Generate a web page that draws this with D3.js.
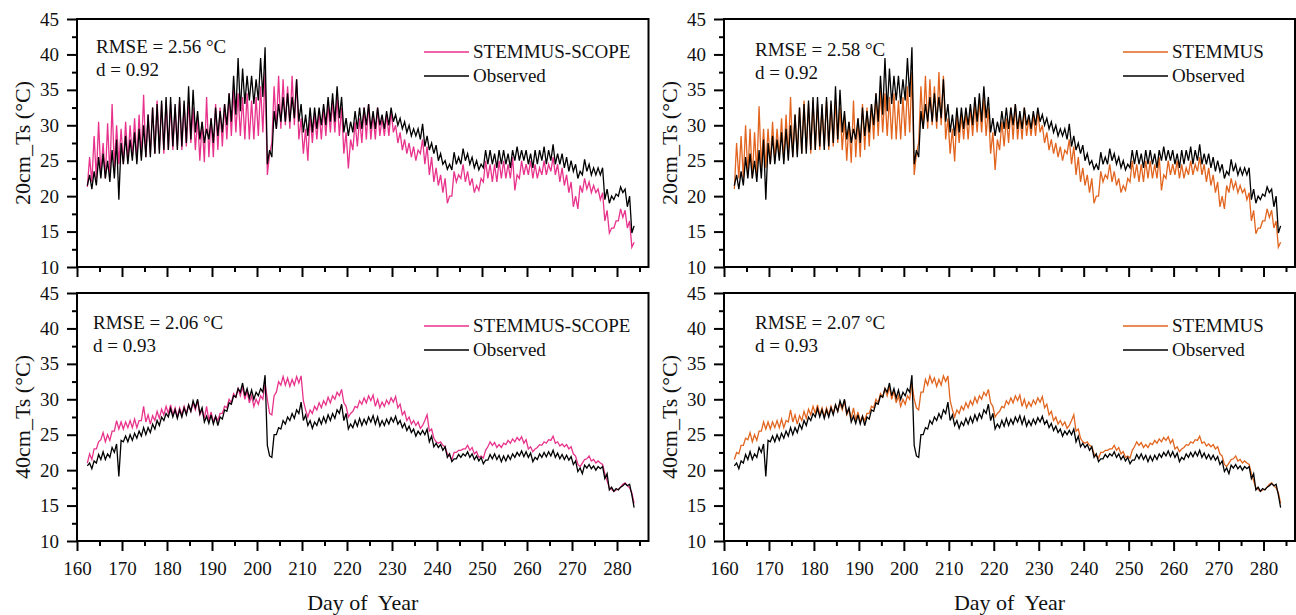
<!DOCTYPE html>
<html>
<head>
<meta charset="utf-8">
<script src="https://cdn.jsdelivr.net/npm/d3@7"></script>
<style>
  body { margin: 0; background: #fff; }
  svg { display: block; }
  svg text { font-family: "Liberation Serif", "Times New Roman", serif; fill: #111; }
</style>
</head>
<body>
<div id="chart"></div>
<script>
// one trough (lo) and one peak (hi) per day, days 162..283
const days = d3.range(162, 284);

const obsLo20 = [21.5,21.0,21.5,22.5,22.5,22.0,22.5,19.5,24.5,24.5,
  25.0,24.5,25.0,25.5,25.5,26.0,26.0,26.5,26.5,27.0,
  26.5,27.0,27.5,28.0,29.0,28.0,27.5,28.0,27.5,28.5,
  29.0,30.0,30.5,31.5,32.0,33.0,33.5,33.0,33.5,34.0,
  24.5,25.5,29.5,30.5,30.5,30.5,31.0,30.5,29.0,28.5,
  29.0,29.5,30.0,30.0,30.5,30.5,31.0,29.0,28.5,29.0,
  29.5,29.5,30.0,29.5,29.5,30.0,29.5,30.0,30.5,30.0,
  29.5,29.0,28.5,28.5,28.0,27.0,26.5,26.0,25.0,24.5,
  23.8,23.7,24.5,24.5,25.0,24.5,24.0,23.7,24.0,24.5,
  24.5,24.0,24.5,24.5,24.0,25.0,25.0,25.0,24.5,24.0,
  24.5,25.0,24.5,25.0,24.5,24.5,24.0,23.5,23.5,22.5,
  23.0,23.5,23.0,23.0,23.0,19.5,19.0,19.5,20.0,20.5,
  18.5,14.8];
const obsHi20 = [23.0,23.5,25.5,26.0,25.0,26.5,28.0,27.5,28.5,28.0,
  29.0,29.5,30.0,31.5,32.5,33.0,33.5,34.0,34.0,33.0,
  34.0,33.5,35.5,35.0,32.0,30.5,29.5,31.0,32.5,32.0,
  33.0,34.5,37.0,39.5,38.0,37.0,37.0,36.5,39.5,41.0,
  26.5,32.0,33.0,34.0,34.5,34.0,36.5,33.0,31.5,32.5,
  32.5,32.5,33.0,34.0,34.5,35.5,34.0,31.0,30.5,32.0,
  32.5,32.5,33.0,32.0,32.5,31.5,32.0,32.5,31.5,31.0,
  30.5,30.0,29.5,29.5,30.2,28.5,27.5,27.2,26.0,25.0,
  24.5,26.2,25.5,26.7,26.0,25.5,25.0,24.5,26.5,26.5,
  26.0,26.5,26.5,26.0,26.5,27.0,26.5,26.5,26.0,26.5,
  26.5,27.0,26.5,27.3,26.0,26.0,25.5,25.0,24.5,23.5,
  25.2,24.5,24.0,24.0,24.0,21.0,20.0,20.3,21.3,21.0,
  20.0,15.8];

const ssLo20 = [21.3,22.0,22.5,23.0,22.5,23.0,24.0,24.5,24.5,25.0,
  25.5,25.0,25.5,25.5,26.0,26.0,26.5,26.0,26.5,26.5,
  27.0,26.5,27.0,27.5,26.5,25.0,24.8,25.5,25.5,26.5,
  27.0,28.0,28.5,29.0,28.5,28.0,28.0,28.0,28.5,29.0,
  23.0,27.5,29.5,29.5,30.0,29.5,30.0,28.0,26.0,25.0,
  27.5,28.0,28.0,28.5,29.0,29.0,28.5,26.0,23.9,26.5,
  27.0,27.5,28.0,28.0,28.0,28.5,28.5,28.5,29.0,27.5,
  26.5,26.0,25.5,25.0,26.0,24.5,23.0,22.0,21.5,20.5,
  19.0,20.0,22.0,22.5,22.0,21.5,20.5,20.8,22.0,22.5,
  22.0,22.0,22.5,22.5,22.5,20.8,22.5,23.0,23.0,22.5,
  22.5,23.0,23.0,23.5,23.0,22.0,21.5,20.5,18.5,18.2,
  20.5,21.0,20.5,20.5,19.5,16.5,14.8,15.5,16.5,17.0,
  15.5,12.8];
const ssHi20 = [25.5,28.5,30.5,27.5,30.3,33.0,30.0,29.5,30.5,30.0,
  31.0,31.5,34.3,31.5,32.5,33.5,33.0,33.5,33.0,32.5,
  33.5,33.0,33.5,32.5,31.0,30.5,34.0,31.0,33.0,32.5,
  33.0,34.5,35.0,34.5,34.0,34.5,33.5,34.0,35.5,37.5,
  26.0,35.5,37.0,36.5,35.5,37.0,36.5,31.0,29.5,31.5,
  31.5,32.0,32.5,33.0,33.5,34.0,32.5,29.0,28.0,30.5,
  31.0,32.5,33.0,31.5,32.5,31.0,31.5,32.0,30.0,29.0,
  28.0,27.5,27.0,26.5,28.0,27.0,25.5,24.0,23.0,22.5,
  20.0,23.5,23.0,24.5,23.5,22.5,21.5,22.5,25.0,24.5,
  24.5,25.0,25.0,24.5,25.5,23.0,25.0,24.5,25.0,24.5,
  24.0,25.0,24.5,25.5,24.5,24.0,23.0,22.0,20.0,21.5,
  22.5,22.0,21.5,21.0,20.5,18.0,15.5,16.5,18.2,18.0,
  16.5,13.5];

const stLo20 = [21.0,22.5,22.5,23.0,22.5,23.0,24.0,24.0,24.5,25.0,
  25.5,25.0,25.5,25.5,26.0,26.0,26.5,26.0,26.5,26.5,
  27.0,26.5,27.0,27.5,26.5,25.0,24.7,25.5,25.5,26.5,
  27.0,28.0,28.5,29.0,28.5,28.0,28.0,28.0,28.5,29.0,
  23.0,27.5,29.5,29.5,30.0,29.5,30.0,28.0,26.0,24.9,
  27.5,28.0,28.0,28.5,29.0,29.0,28.5,26.0,23.7,26.5,
  27.0,27.5,28.0,28.0,28.0,28.5,28.5,28.5,29.0,27.5,
  26.5,26.0,25.5,25.0,26.0,24.5,23.0,22.0,21.5,20.5,
  19.0,20.0,22.0,22.5,22.0,21.5,20.5,20.8,22.0,22.5,
  22.0,22.0,22.5,22.5,22.5,20.8,22.5,23.0,23.0,22.5,
  22.5,23.0,23.0,23.5,23.0,22.0,21.5,20.5,18.5,18.2,
  20.5,21.0,20.5,20.5,19.5,16.5,14.7,15.5,16.5,17.0,
  15.5,12.8];
const stHi20 = [27.5,28.5,30.0,29.5,29.0,32.7,29.5,29.5,30.5,29.5,
  31.0,31.5,34.0,31.5,32.5,33.5,33.0,33.5,33.0,32.5,
  33.5,33.0,33.5,32.5,31.0,30.5,33.5,31.0,33.0,32.5,
  33.0,34.5,35.0,34.5,34.0,34.5,33.5,34.0,35.5,37.5,
  26.0,35.5,37.0,36.5,35.5,37.5,37.0,31.0,29.5,31.5,
  31.5,32.0,32.5,33.0,33.5,34.0,32.5,29.0,28.0,30.5,
  31.0,32.5,33.0,31.5,32.5,31.0,31.5,32.0,30.0,29.0,
  28.0,27.5,27.0,26.5,28.0,27.0,25.5,24.0,23.0,22.5,
  20.0,23.5,23.0,24.5,23.5,22.5,21.5,22.5,25.0,24.5,
  24.5,25.0,25.0,24.5,25.5,23.0,25.0,24.5,25.0,24.5,
  24.0,25.0,24.5,25.5,24.5,24.0,23.0,22.0,20.0,21.5,
  22.5,22.0,21.5,21.0,20.5,18.0,15.5,16.5,18.2,18.0,
  16.5,13.5];

const obsLo40 = [20.6,20.2,21.0,21.5,21.5,21.8,22.5,19.1,24.0,24.0,
  24.2,24.5,24.8,25.0,25.3,25.8,26.3,27.0,27.5,27.5,
  27.3,27.5,27.8,28.3,28.8,28.0,26.8,26.6,26.5,26.3,
  27.2,28.3,29.3,30.3,31.0,30.5,30.2,30.0,30.5,31.0,
  23.5,21.8,25.0,25.8,26.5,27.0,27.3,28.0,27.0,26.3,
  25.9,26.3,26.5,26.7,27.0,27.3,28.0,27.0,25.8,26.0,
  26.2,26.3,26.5,26.8,26.5,26.2,26.3,26.5,26.8,26.5,
  26.0,25.6,25.3,24.8,25.0,25.0,24.0,23.3,23.2,22.8,
  21.8,21.2,21.6,21.8,22.0,21.8,21.5,21.3,20.9,21.4,
  21.6,21.5,21.2,21.3,21.5,21.8,22.0,21.9,21.8,21.2,
  21.5,21.8,21.9,22.0,21.8,21.6,21.5,21.4,20.8,19.8,
  19.5,20.3,20.2,20.0,20.2,18.8,17.2,17.0,17.2,17.8,
  17.8,16.5];
const obsHi40 = [21.0,21.3,22.2,22.6,22.3,23.2,23.7,24.2,24.8,25.0,
  25.2,25.5,26.0,26.0,26.5,27.0,27.5,28.0,28.7,28.5,
  28.5,28.8,29.2,29.8,30.0,28.8,27.6,27.8,27.6,27.5,
  28.5,29.5,30.5,31.5,32.3,31.5,31.3,31.0,31.5,33.4,
  22.0,25.0,26.0,27.0,27.5,28.0,28.5,29.6,27.8,27.0,
  26.8,27.3,27.5,27.8,28.0,28.5,29.3,28.0,26.5,27.0,
  27.3,27.2,27.5,27.7,27.5,27.0,27.2,27.4,27.6,27.0,
  26.6,26.2,25.8,25.5,25.6,25.8,24.8,23.8,23.6,23.3,
  22.3,21.6,22.2,22.3,22.6,22.3,22.0,21.8,21.4,22.2,
  22.3,22.1,22.0,22.1,22.3,22.5,22.7,22.6,22.4,21.8,
  22.3,22.5,22.6,22.8,22.4,22.2,22.1,21.9,21.3,20.3,
  20.7,20.8,20.6,20.5,20.5,19.5,17.6,17.4,17.6,18.1,
  18.0,14.7];

const ssLo40 = [21.0,21.5,23.0,24.3,24.0,24.2,25.5,25.8,25.8,26.0,
  26.0,26.0,27.0,26.8,26.5,27.0,27.3,27.8,28.0,27.8,
  27.5,27.8,28.0,28.3,28.5,27.8,27.3,27.0,26.8,27.0,
  28.0,28.8,29.5,30.3,30.5,30.0,29.5,29.0,29.3,30.0,
  30.0,27.8,31.0,32.0,32.0,31.8,32.0,32.3,29.8,27.5,
  28.0,28.5,28.8,29.2,29.5,30.0,30.5,29.5,27.5,28.3,
  28.8,29.3,29.5,29.8,29.0,28.8,29.0,29.3,29.6,28.8,
  27.8,27.0,26.5,26.3,25.9,27.0,25.5,24.5,23.8,23.5,
  22.3,21.5,22.5,22.8,23.0,22.8,22.3,21.8,21.7,23.3,
  23.5,23.2,23.2,23.6,23.8,24.0,24.2,23.8,23.0,22.6,
  23.2,23.5,23.8,24.2,23.8,23.4,23.3,23.0,22.3,20.8,
  21.0,21.6,21.3,21.0,21.0,19.5,17.5,17.0,17.3,18.0,
  17.8,16.8];
const ssHi40 = [22.3,23.0,24.0,25.3,25.0,25.5,27.0,26.8,26.8,27.0,
  27.2,27.0,29.0,27.8,27.7,28.3,28.6,29.0,29.2,28.8,
  28.8,29.0,29.2,29.5,29.8,28.5,29.0,28.2,27.6,28.0,
  29.0,30.0,30.8,31.5,31.8,31.2,30.5,30.0,30.5,32.2,
  28.0,30.5,32.5,33.2,33.0,32.8,33.2,33.3,28.5,28.5,
  29.0,29.5,29.8,30.3,30.5,31.0,31.4,29.0,28.0,29.0,
  29.8,30.2,30.5,30.6,30.0,29.6,29.9,30.2,30.4,29.3,
  28.3,27.5,27.0,26.8,26.3,27.8,25.8,24.0,24.0,23.3,
  22.0,22.5,22.8,23.0,23.5,23.2,22.6,22.0,22.8,24.0,
  23.9,23.6,23.8,24.2,24.4,24.6,24.7,24.3,23.3,23.0,
  23.6,24.0,24.3,24.8,24.0,23.7,23.6,23.3,22.0,20.5,
  21.5,22.0,21.5,21.3,20.8,18.5,17.3,17.2,17.6,18.2,
  17.5,15.3];

const stLo40 = [21.5,22.3,23.5,24.3,24.0,24.2,25.5,25.8,25.8,26.0,
  26.0,26.0,26.8,26.8,26.5,27.0,27.3,27.8,28.0,27.8,
  27.5,27.8,28.0,28.3,28.5,27.8,27.3,27.0,26.8,27.0,
  28.0,28.8,29.5,30.3,30.5,30.0,29.5,29.0,29.3,30.0,
  30.0,28.5,31.0,32.0,32.3,31.8,32.0,32.5,29.8,27.5,
  28.0,28.5,28.8,29.2,29.5,30.0,30.5,29.5,27.5,28.3,
  28.8,29.3,29.5,29.8,29.0,28.8,29.0,29.3,29.6,28.8,
  27.8,27.0,26.5,26.3,25.9,27.0,25.5,24.5,23.8,23.5,
  22.3,21.7,22.5,22.8,23.0,22.8,22.3,21.8,21.7,23.3,
  23.5,23.2,23.2,23.6,23.8,24.0,24.2,23.8,23.0,22.6,
  23.2,23.5,23.8,24.2,23.8,23.4,23.3,23.0,22.3,20.8,
  21.0,21.6,21.3,21.0,21.0,19.5,17.5,17.0,17.3,18.0,
  17.8,16.8];
const stHi40 = [22.5,23.5,24.5,25.3,25.0,25.5,26.8,26.8,26.8,27.0,
  27.2,27.0,28.5,27.8,27.7,28.3,28.6,29.0,29.2,28.8,
  28.8,29.0,29.2,29.5,29.8,28.5,28.8,28.2,27.6,28.0,
  29.0,30.0,30.8,31.5,31.8,31.2,30.5,30.0,30.5,32.3,
  28.8,31.0,32.8,33.3,33.0,32.8,33.3,33.3,28.5,28.5,
  29.0,29.5,29.8,30.3,30.5,31.0,31.4,29.0,28.0,29.0,
  29.8,30.2,30.5,30.6,30.0,29.6,29.9,30.2,30.4,29.3,
  28.3,27.5,27.0,26.8,26.3,27.8,25.8,24.0,24.0,23.3,
  22.0,22.5,22.8,23.0,23.5,23.2,22.6,22.0,22.8,24.0,
  23.9,23.6,23.8,24.2,24.4,24.6,24.7,24.3,23.3,23.0,
  23.6,24.0,24.3,24.8,24.0,23.7,23.6,23.3,22.0,20.5,
  21.5,22.0,21.5,21.3,20.8,18.5,17.3,17.2,17.6,18.2,
  17.5,15.3];

const yTicks = [10, 15, 20, 25, 30, 35, 40, 45];
const xTicks = [160, 170, 180, 190, 200, 210, 220, 230, 240, 250, 260, 270, 280];

const pink = "#e8338c", orange = "#e2651f";

const width = 1296, height = 615;

const svg = d3.select("#chart")
  .append("svg")
  .attr("width", width)
  .attr("height", height)
  .attr("viewBox", [0, 0, width, height]);

// join the trough/peak pairs into one time series
function series(lo, hi) {
  return days.flatMap((d, i) => [{t: d + 0.3, v: lo[i]}, {t: d + 0.8, v: hi[i]}]);
}

const panels = [
  {x0: 77, x1: 648.5, y0: 19, y1: 267, ytitle: "20cm_Ts (°C)", model: series(ssLo20, ssHi20), obs: series(obsLo20, obsHi20),
   color: pink, name: "STEMMUS-SCOPE", rmse: "RMSE = 2.56 °C", dstat: "d = 0.92", sx: 96, sy: 53, lx: 424, ly: 52, labels: false, tx: 30},
  {x0: 724, x1: 1295, y0: 19, y1: 267, ytitle: "20cm_Ts (°C)", model: series(stLo20, stHi20), obs: series(obsLo20, obsHi20),
   color: orange, name: "STEMMUS", rmse: "RMSE = 2.58 °C", dstat: "d = 0.92", sx: 755, sy: 56, lx: 1123, ly: 52, labels: false, tx: 677},
  {x0: 77, x1: 648.5, y0: 293, y1: 541, ytitle: "40cm_Ts (°C)", model: series(ssLo40, ssHi40), obs: series(obsLo40, obsHi40),
   color: pink, name: "STEMMUS-SCOPE", rmse: "RMSE = 2.06 °C", dstat: "d = 0.93", sx: 93, sy: 329, lx: 424, ly: 326, labels: true, tx: 30},
  {x0: 724, x1: 1295, y0: 293, y1: 541, ytitle: "40cm_Ts (°C)", model: series(stLo40, stHi40), obs: series(obsLo40, obsHi40),
   color: orange, name: "STEMMUS", rmse: "RMSE = 2.07 °C", dstat: "d = 0.93", sx: 755, sy: 329, lx: 1123, ly: 326, labels: true, tx: 677}
];

panels.forEach(p => {
  let x = d3.scaleLinear().domain([160, 287]).range([p.x0, p.x1]);
  let y = d3.scaleLinear().domain([10, 45]).range([p.y1, p.y0]);
  const g = svg.append("g");

  const line = d3.line().x(d => x(d.t)).y(d => y(d.v));

  g.append("path")
    .datum(p.model)
    .attr("fill", "none")
    .attr("stroke", p.color)
    .attr("stroke-width", 1.3)
    .attr("d", line);

  g.append("path")
    .datum(p.obs)
    .attr("fill", "none")
    .attr("stroke", "#000")
    .attr("stroke-width", 1.3)
    .attr("d", line);

  // minor ticks
  g.append("g")
    .attr("transform", `translate(${p.x0},0)`)
    .call(d3.axisLeft(y).tickValues(d3.range(12.5, 45, 5)).tickSize(5).tickFormat(""))
    .call(a => a.select(".domain").remove());
  g.append("g")
    .attr("transform", `translate(0,${p.y1})`)
    .call(d3.axisBottom(x).tickValues(d3.range(165, 290, 10)).tickSize(5).tickFormat(""))
    .call(a => a.select(".domain").remove());

  // major ticks + labels
  g.append("g")
    .attr("transform", `translate(${p.x0},0)`)
    .call(d3.axisLeft(y).tickValues(yTicks).tickSize(10).tickPadding(8))
    .attr("font-family", null).attr("font-size", 19)
    .call(a => a.select(".domain").remove());
  g.append("g")
    .attr("transform", `translate(0,${p.y1})`)
    .call(d3.axisBottom(x).tickValues(xTicks).tickSize(10).tickPadding(11).tickFormat(p.labels ? d => d : ""))
    .attr("font-family", null).attr("font-size", 19)
    .call(a => a.select(".domain").remove());

  g.selectAll(".tick line").attr("stroke", "#000").attr("stroke-width", 2);

  g.append("rect")
    .attr("x", p.x0).attr("y", p.y0)
    .attr("width", p.x1 - p.x0).attr("height", p.y1 - p.y0)
    .attr("fill", "none").attr("stroke", "#000").attr("stroke-width", 2);

  // y title
  g.append("text")
    .attr("transform", `translate(${p.tx},${(p.y0 + p.y1) / 2}) rotate(-90)`)
    .attr("text-anchor", "middle")
    .attr("font-size", 22)
    .text(p.ytitle);

  // stats
  g.append("text").attr("x", p.sx).attr("y", p.sy).attr("font-size", 19).text(p.rmse);
  g.append("text").attr("x", p.sx).attr("y", p.sy + 23).attr("font-size", 19).text(p.dstat);

  // legend
  [[p.name, p.color], ["Observed", "#000"]].forEach(([name, c], i) => {
    g.append("line")
      .attr("x1", p.lx).attr("x2", p.lx + 45)
      .attr("y1", p.ly + i * 24).attr("y2", p.ly + i * 24)
      .attr("stroke", c).attr("stroke-width", 1.5);
    g.append("text")
      .attr("x", p.lx + 49).attr("y", p.ly + i * 24 + 6)
      .attr("font-size", 19)
      .text(name);
  });

  if (p.labels) {
    g.append("text")
      .attr("x", (p.x0 + p.x1) / 2).attr("y", 610)
      .attr("text-anchor", "middle")
      .attr("font-size", 22)
      .style("white-space", "pre")
      .text("Day of  Year");
  }
});
</script>
</body>
</html>
